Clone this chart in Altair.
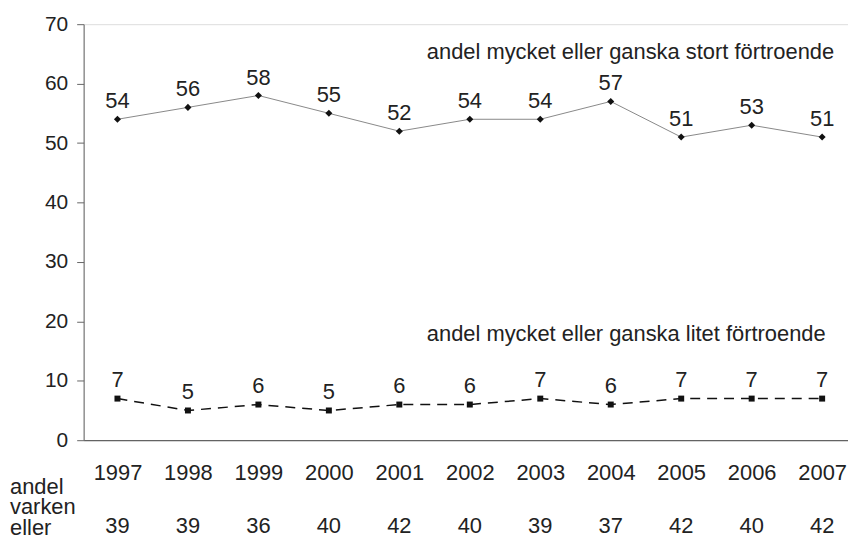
import altair as alt
import pandas as pd

years = [1997, 1998, 1999, 2000, 2001, 2002, 2003, 2004, 2005, 2006, 2007]
stort = [54, 56, 58, 55, 52, 54, 54, 57, 51, 53, 51]
litet = [7, 5, 6, 5, 6, 6, 7, 6, 7, 7, 7]
varken = [39, 39, 36, 40, 42, 40, 39, 37, 42, 40, 42]
series_labels = ["andel mycket eller ganska stort förtroende",
                 "andel mycket eller ganska litet förtroende"]
row_label = ["andel", "varken", "eller"]

df = pd.DataFrame({"year": years, "stort": stort, "litet": litet, "varken": varken})
ann = pd.DataFrame({"year": [2001.39, 2001.39], "v": [64.19, 16.66], "t": series_labels})

FONT = "Liberation Sans"
TXT = "#222"
FS = 22
xscale = alt.Scale(domain=[1996.52, 2007.367], nice=False, zero=False)
yscale = alt.Scale(domain=[0, 70], nice=False)

base = alt.Chart(df)

x_enc = alt.X("year:Q", scale=xscale, axis=alt.Axis(
    values=years, format="d", title=None, grid=False, ticks=False,
    labelFontSize=FS, labelPadding=22, labelColor=TXT, domainColor="#444",
    labelFont=FONT))
y_enc = alt.Y("stort:Q", scale=yscale, axis=alt.Axis(
    values=list(range(0, 80, 10)), title=None, grid=False, tickSize=7,
    labelFontSize=21, labelPadding=9, labelColor=TXT, domainColor="#666",
    tickColor="#666", labelFont=FONT))

line1 = base.mark_line(color="#888", strokeWidth=1).encode(x=x_enc, y=y_enc)
pts1 = base.mark_point(shape="diamond", filled=True, color="#111", size=50, opacity=1).encode(
    x="year:Q", y="stort:Q")
lab1 = base.mark_text(fontSize=FS, font=FONT, color=TXT, baseline="alphabetic", dy=-11).encode(
    x="year:Q", y="stort:Q", text="stort:Q")

line2 = base.mark_line(color="#111", strokeWidth=1.5, strokeDash=[10, 7]).encode(
    x="year:Q", y=alt.Y("litet:Q", scale=yscale))
pts2 = base.mark_point(shape="square", filled=True, color="#111", size=36, opacity=1).encode(
    x="year:Q", y="litet:Q")
lab2 = base.mark_text(fontSize=FS, font=FONT, color=TXT, baseline="alphabetic", dy=-12).encode(
    x="year:Q", y="litet:Q", text="litet:Q")

bottom = base.mark_text(fontSize=FS, font=FONT, color=TXT, baseline="alphabetic").encode(
    x="year:Q", y=alt.value(511), text="varken:Q")

left_lab = alt.Chart(pd.DataFrame({"t": [row_label]})).mark_text(
    fontSize=FS, font=FONT, color=TXT, align="left", baseline="alphabetic", lineHeight=20.5
).encode(x=alt.value(-74), y=alt.value(472), text="t")

annot = alt.Chart(ann).mark_text(fontSize=FS, font=FONT, color=TXT, align="left", baseline="alphabetic").encode(
    x=alt.X("year:Q", scale=xscale), y=alt.Y("v:Q", scale=yscale), text="t:N")

chart = alt.layer(line1, pts1, lab1, line2, pts2, lab2, bottom, left_lab, annot).properties(
    width=768, height=418,
    autosize=alt.AutoSizeParams(type="none"),
    padding={"left": 76, "top": 15, "right": 0, "bottom": 95},
).configure_view(stroke=None).configure(background="white")

chart.save("out.html", embed_options={"renderer": "svg", "actions": False})
